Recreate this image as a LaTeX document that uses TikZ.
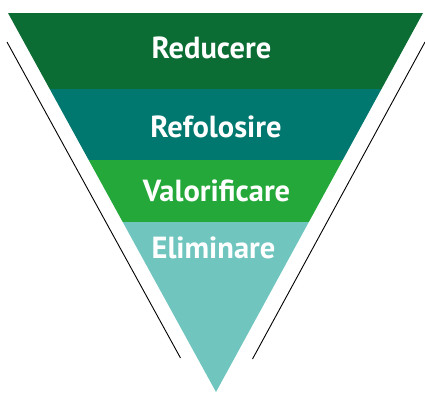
\documentclass[tikz,border=0pt]{standalone}
\usepackage{fontspec}
\setmainfont{PT Sans}
\definecolor{cA}{HTML}{0B6D33}
\definecolor{cB}{HTML}{00786F}
\definecolor{cC}{HTML}{24A83A}
\definecolor{cD}{HTML}{70C6BF}
\begin{document}
\begin{tikzpicture}[x=1pt,y=-1pt,
  lbl/.style={text=white,font=\fontsize{30.5}{32}\selectfont\bfseries,anchor=base,inner sep=0pt},
  side/.style={draw=black,line width=0.9pt}]
\useasboundingbox (0,0) rectangle (425,392);
\begin{scope}
\clip (8,13) -- (423,13) -- (216,392) -- cycle;
\fill[cA] (0,13) rectangle (425,89);
\fill[cB] (0,89) rectangle (425,160);
\fill[cC] (0,160) rectangle (425,222);
\fill[cD] (0,222) rectangle (425,392);
\end{scope}
\coordinate (l1) at (7,42);
\coordinate (l2) at (180.5,358);
\coordinate (r1) at (425,42);
\coordinate (r2) at (252.5,359);
\draw[side] (l1) -- (l2);
\draw[side] (r1) -- (r2);
\node[lbl] (t1) at (211.5,58.3) {Reducere};
\node[lbl] (t2) at (216,137) {Refolosire};
\node[lbl] (t3) at (216.5,201.7) {Valorificare};
\node[lbl] (t4) at (213.5,258) {Eliminare};
\end{tikzpicture}
\end{document}
